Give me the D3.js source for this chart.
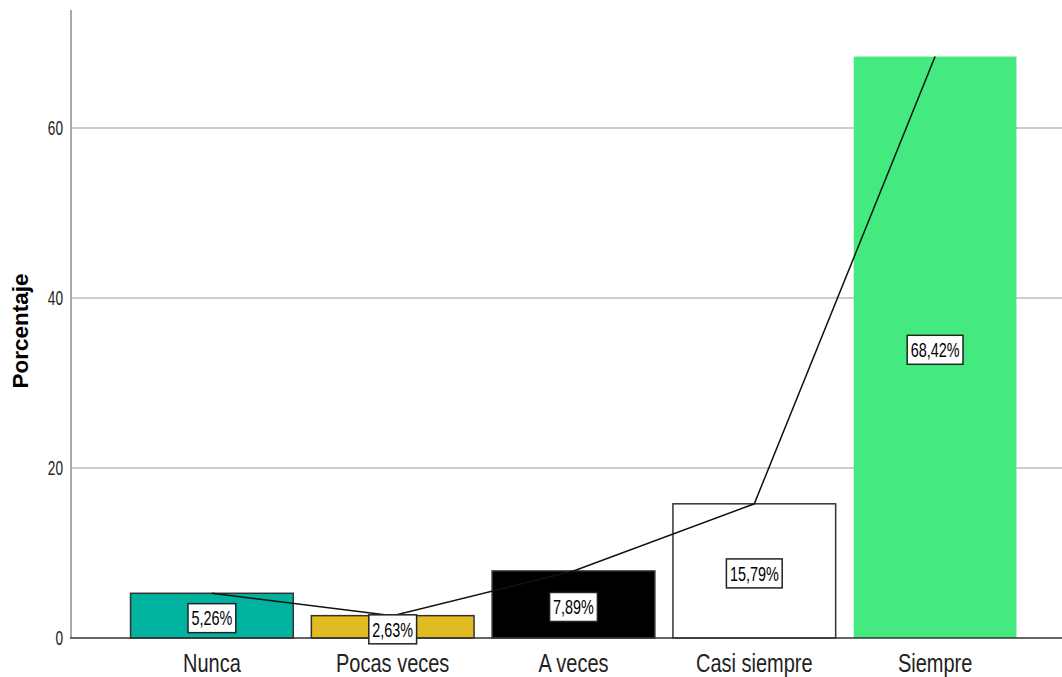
<!DOCTYPE html>
<html>
<head>
<meta charset="utf-8">
<script src="https://cdn.jsdelivr.net/npm/d3@7"></script>
<style>
  body { margin: 0; background: #fff; }
  svg { display: block; }
</style>
</head>
<body>
<div id="chart"></div>
<script>
var categories = ['Nunca', 'Pocas veces', 'A veces', 'Casi siempre', 'Siempre'];
var percents = [5.26, 2.63, 7.89, 15.79, 68.42];
var labels = ['5,26%', '2,63%', '7,89%', '15,79%', '68,42%'];
var barColors = ['#00b2a0', '#e0bb22', '#000000', '#ffffff', '#44ea80'];
var barStrokes = ['#333', '#333', '#333', '#333', 'none'];
var yTicks = [0, 20, 40, 60];

var W = 1062, H = 677;
var sans = '"Liberation Sans", Arial, sans-serif';

var svg = d3.select('#chart').append('svg')
    .attr('width', W)
    .attr('height', H);

var x = d3.scaleBand()
    .domain(categories)
    .range([121.5, 1025.5])
    .paddingInner(0.1)
    .paddingOuter(0.05);

var y = d3.scaleLinear()
    .domain([0, 73.9])
    .range([638, 10]);

// grid lines
svg.selectAll('line.grid')
    .data(yTicks.slice(1))
    .enter()
    .append('line')
    .attr('class', 'grid')
    .attr('x1', 70).attr('x2', W)
    .attr('y1', function (d) { return y(d); })
    .attr('y2', function (d) { return y(d); })
    .attr('stroke', '#cccccc')
    .attr('stroke-width', 2);

// y axis line
svg.append('line')
    .attr('x1', 71).attr('x2', 71)
    .attr('y1', y.range()[1]).attr('y2', y(0))
    .attr('stroke', '#aaaaaa')
    .attr('stroke-width', 2);

// tick labels (condensed, like the original narrow font)
svg.selectAll('text.ytick')
    .data(yTicks)
    .enter()
    .append('text')
    .attr('class', 'ytick')
    .attr('transform', function (d) { return 'translate(63,' + y(d) + ') scale(0.7,1)'; })
    .attr('dy', '0.36em')
    .attr('text-anchor', 'end')
    .attr('font-family', sans)
    .attr('font-size', 19.5)
    .attr('fill', '#222')
    .text(function (d) { return d; });

// bars
svg.selectAll('rect.bar')
    .data(percents)
    .enter()
    .append('rect')
    .attr('class', 'bar')
    .attr('x', function (d, i) { return x(categories[i]); })
    .attr('y', function (d) { return y(d); })
    .attr('width', x.bandwidth())
    .attr('height', function (d) { return y(0) - y(d); })
    .attr('fill', function (d, i) { return barColors[i]; })
    .attr('stroke', function (d, i) { return barStrokes[i]; })
    .attr('stroke-width', 1.5);

// baseline
svg.append('line')
    .attr('x1', 70).attr('x2', W)
    .attr('y1', y(0)).attr('y2', y(0))
    .attr('stroke', '#333')
    .attr('stroke-width', 1.5);

// line through bar tops
var line = d3.line()
    .x(function (d, i) { return x(categories[i]) + x.bandwidth() / 2; })
    .y(function (d) { return y(d); });

svg.append('path')
    .datum(percents)
    .attr('d', line)
    .attr('fill', 'none')
    .attr('stroke', '#111')
    .attr('stroke-width', 1.5);

// value labels
var lab = svg.selectAll('g.lab')
    .data(percents)
    .enter()
    .append('g')
    .attr('class', 'lab')
    .attr('transform', function (d, i) {
        return 'translate(' + (x(categories[i]) + x.bandwidth() / 2) + ',' + ((y(d) + y(0)) / 2 + 2.5) + ')';
    });

lab.append('text')
    .attr('transform', 'scale(0.72,1)')
    .attr('text-anchor', 'middle')
    .attr('dy', '0.36em')
    .attr('font-family', sans)
    .attr('font-size', 20)
    .attr('fill', '#000')
    .text(function (d, i) { return labels[i]; })
    .each(function () {
        var b = this.getBBox();
        var w = b.width * 0.72;
        d3.select(this.parentNode).insert('rect', 'text')
            .attr('x', -w / 2 - 3.5)
            .attr('y', -14.5)
            .attr('width', w + 7)
            .attr('height', 29)
            .attr('fill', '#fff')
            .attr('stroke', '#222')
            .attr('stroke-width', 1.5);
    });

// category labels
svg.selectAll('text.cat')
    .data(categories)
    .enter()
    .append('text')
    .attr('class', 'cat')
    .attr('transform', function (d) { return 'translate(' + (x(d) + x.bandwidth() / 2) + ',672) scale(0.8,1)'; })
    .attr('text-anchor', 'middle')
    .attr('font-family', sans)
    .attr('font-size', 25)
    .attr('fill', '#222')
    .text(function (d) { return d; });

// y axis title
svg.append('text')
    .attr('transform', 'translate(28,331) rotate(-90)')
    .attr('text-anchor', 'middle')
    .attr('font-family', sans)
    .attr('font-weight', 'bold')
    .attr('font-size', 22.5)
    .attr('fill', '#000')
    .text('Porcentaje');
</script>
</body>
</html>
